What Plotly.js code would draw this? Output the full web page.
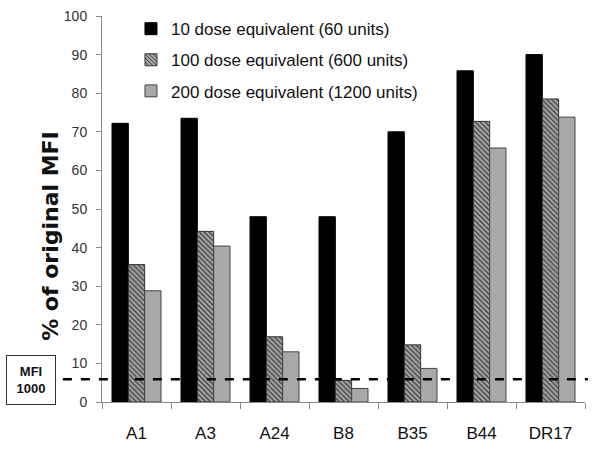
<!DOCTYPE html>
<html>
<head>
<meta charset="utf-8">
<script src="https://cdn.plot.ly/plotly-3.0.1.min.js"></script>
<style>html,body{margin:0;padding:0;background:#fff;}#chart{width:600px;height:453px;}</style>
</head>
<body>
<div id="chart"></div>
<script>
const categories = ["A1", "A3", "A24", "B8", "B35", "B44", "DR17"];
const dose10 = [72.2, 73.5, 48.0, 48.0, 70.0, 85.8, 90.0];
const dose100 = [35.6, 44.2, 16.9, 5.6, 14.8, 72.7, 78.5];
const dose200 = [28.8, 40.4, 13.0, 3.5, 8.7, 65.8, 73.8];
const seriesNames = ["10 dose equivalent (60 units)", "100 dose equivalent (600 units)", "200 dose equivalent (1200 units)"];
const mfiThreshold = 5.9;
const yTicks = [0, 10, 20, 30, 40, 50, 60, 70, 80, 90, 100];

const font = "Liberation Sans, Arial, sans-serif";

const traces = [
  {type: "bar", x: categories, y: dose10, name: seriesNames[0], legendgroup: "g1",
   marker: {color: "#000000", line: {color: "#000000", width: 1}}},
  {type: "bar", x: categories, y: dose100, name: seriesNames[1], legendgroup: "g2",
   marker: {color: "#9a9a9a", line: {color: "#333333", width: 1},
            pattern: {shape: "\\", fgcolor: "#3a3a3a", bgcolor: "#a8a8a8", size: 3.5, solidity: 0.35}}},
  {type: "bar", x: categories, y: dose200, name: seriesNames[2], legendgroup: "g3",
   marker: {color: "#a9a9a9", line: {color: "#444444", width: 1}}}
];

const layout = {
  width: 600, height: 453,
  margin: {l: 102, r: 15, t: 15, b: 51},
  paper_bgcolor: "#ffffff", plot_bgcolor: "#ffffff",
  font: {family: font, color: "#222"},
  barmode: "group", bargap: 0.29, bargroupgap: 0,
  showlegend: true,
  legend: {x: 0.06, y: 1.01, xanchor: "left", yanchor: "top", font: {size: 17, color: "#111"},
           bgcolor: "rgba(0,0,0,0)", traceorder: "grouped", tracegroupgap: 6, itemwidth: 30},
  xaxis: {type: "category", showline: true, linecolor: "#8a8a8a", linewidth: 1,
          ticks: "outside", tickson: "boundaries", ticklen: 6, tickcolor: "#8a8a8a", ticklabelstandoff: 16,
          tickfont: {size: 17, color: "#111"}, showgrid: false, zeroline: false},
  yaxis: {range: [0, 100], tickvals: yTicks, ticktext: yTicks.map(String),
          showline: true, linecolor: "#8a8a8a", linewidth: 1,
          ticks: "outside", ticklen: 5, tickcolor: "#8a8a8a", ticklabelstandoff: 6,
          tickfont: {size: 14, color: "#333"}, showgrid: false, zeroline: false},
  shapes: [
    {type: "line", xref: "paper", yref: "y", x0: -0.081, x1: 1.006, y0: mfiThreshold, y1: mfiThreshold,
     line: {color: "#000", width: 2.5, dash: "dash"}, layer: "above"}
  ],
  annotations: [
    {text: "<b>% of original MFI</b>", xref: "paper", yref: "paper", x: -0.108, y: 0.43,
     xanchor: "center", yanchor: "middle",
     textangle: -90, showarrow: false, font: {size: 22, color: "#111", family: "DejaVu Sans, sans-serif"}},
    {text: "<b>MFI</b><br><b>1000</b>", xref: "paper", yref: "paper", x: -0.147, y: 0.057,
     xanchor: "center", yanchor: "middle", showarrow: false, font: {size: 13, color: "#111"},
     bgcolor: "#ffffff", bordercolor: "#333", borderwidth: 1, borderpad: 8, width: 32, align: "center"}
  ]
};

Plotly.newPlot("chart", traces, layout, {displayModeBar: false, staticPlot: true});
</script>
</body>
</html>
